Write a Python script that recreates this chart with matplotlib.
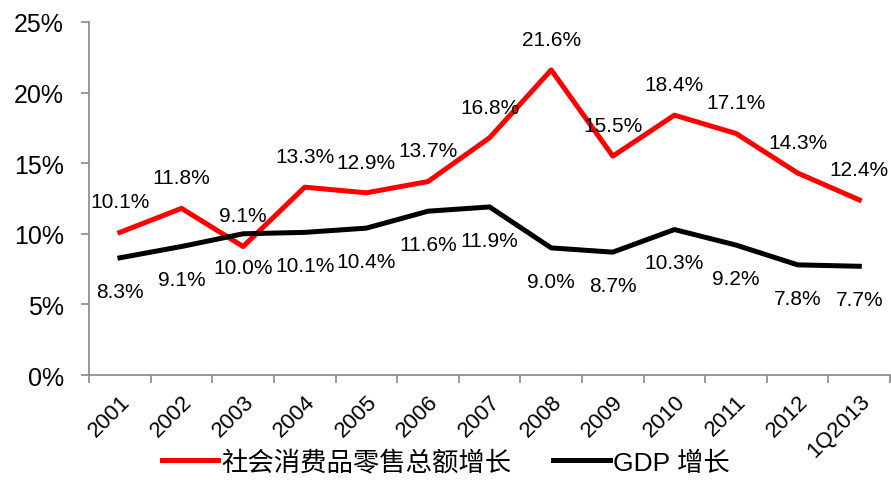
import matplotlib.pyplot as plt

plt.rcParams['font.family'] = ['Liberation Sans', 'Noto Sans CJK SC', 'DejaVu Sans']

categories = ['2001', '2002', '2003', '2004', '2005', '2006', '2007', '2008',
              '2009', '2010', '2011', '2012', '1Q2013']
retail = [10.1, 11.8, 9.1, 13.3, 12.9, 13.7, 16.8, 21.6, 15.5, 18.4, 17.1, 14.3, 12.4]
gdp = [8.3, 9.1, 10.0, 10.1, 10.4, 11.6, 11.9, 9.0, 8.7, 10.3, 9.2, 7.8, 7.7]

fig = plt.figure(figsize=(8.91, 4.85), dpi=100)
ax = fig.add_axes([0.1, 0.2247, 0.899, 0.728])

x = range(len(categories))
ax.plot(x, retail, color='#ff0000', lw=3.6, label='社会消费品零售总额增长')
ax.plot(x, gdp, color='black', lw=3.6, label='GDP 增长')

# data labels: red above, black below
for i, v in enumerate(retail):
    ax.annotate(f'{v:.1f}%', (i, v), xytext=(0, 22), textcoords='offset points',
                ha='center', va='center', fontsize=15)
for i, v in enumerate(gdp):
    ax.annotate(f'{v:.1f}%', (i, v), xytext=(0, -24), textcoords='offset points',
                ha='center', va='center', fontsize=15)

ax.set_xlim(-0.5, len(categories) - 0.5)
ax.set_ylim(0, 25)
ax.set_yticks([0, 5, 10, 15, 20, 25])
ax.set_yticklabels([f'{t}%' for t in [0, 5, 10, 15, 20, 25]], fontsize=18)
ax.set_xticks(list(x))
ax.set_xticklabels(categories, rotation=45, ha='right', rotation_mode='anchor', fontsize=16)
ax.tick_params(axis='x', which='major', length=0, pad=11)
ax.set_xticks([i - 0.5 for i in range(len(categories) + 1)], minor=True)
ax.tick_params(axis='x', which='minor', length=6, color='#888888', width=1.2)
ax.tick_params(axis='y', length=6, color='#888888', width=1.2, pad=12)

for s in ['top', 'right']:
    ax.spines[s].set_visible(False)
for s in ['left', 'bottom']:
    ax.spines[s].set_color('#888888')
    ax.spines[s].set_linewidth(1.2)

fig.legend(loc='center', bbox_to_anchor=(0.5, 0.045), ncol=2, frameon=False,
           fontsize=19, handlelength=2.15, handletextpad=0.1, columnspacing=1.6)

fig.savefig('out.png', dpi=100)
